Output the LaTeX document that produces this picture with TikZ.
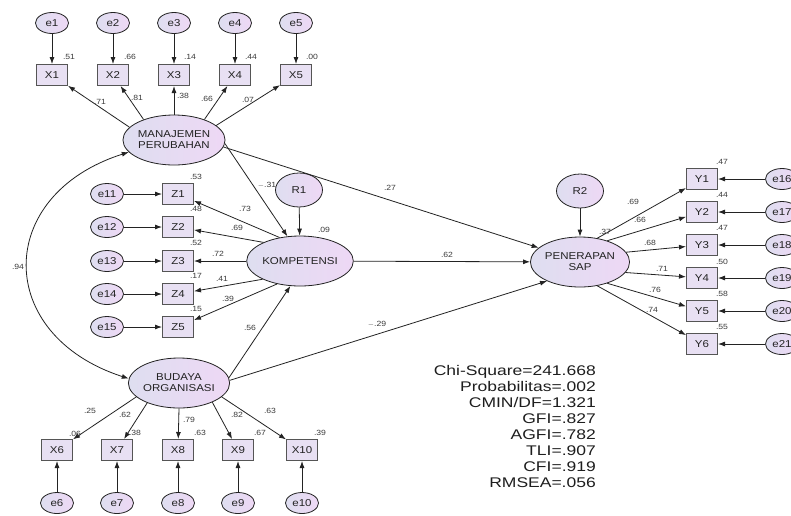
\documentclass[tikz,border=0pt]{standalone}
\usepackage{fontspec}
\setmainfont{Liberation Sans}
\newfontfamily\nodefnt[FakeStretch=1.15]{Liberation Sans}
\newfontfamily\statfnt[FakeStretch=1.25]{Liberation Sans}
\usetikzlibrary{arrows.meta,shapes.geometric}
\definecolor{linec}{RGB}{35,35,35}
\definecolor{boxfill}{RGB}{232,224,243}
\definecolor{boxdraw}{RGB}{85,85,85}
\definecolor{ellL}{RGB}{222,222,240}
\definecolor{ellR}{RGB}{238,216,245}
\definecolor{labc}{RGB}{60,60,60}
\definecolor{statc}{RGB}{30,30,30}
\begin{document}
\begin{tikzpicture}[x=1pt,y=-1pt,
  lat/.style={ellipse, draw=linec, line width=0.8pt, minimum width=96pt, minimum height=50pt, inner sep=0pt,
    left color=ellL, right color=ellR, align=center, font=\nodefnt\fontsize{10}{11}\selectfont, text=linec},
  err/.style={ellipse, draw=linec, line width=0.8pt, minimum width=33pt, minimum height=21pt, inner sep=0pt,
    left color=ellL, right color=ellR, font=\nodefnt\fontsize{10}{11}\selectfont, text=linec},
  resid/.style={ellipse, draw=linec, line width=0.8pt, minimum width=47pt, minimum height=34pt, inner sep=0pt,
    left color=ellL, right color=ellR, font=\nodefnt\fontsize{10}{11}\selectfont, text=linec},
  obs/.style={rectangle, draw=boxdraw, line width=1pt, minimum width=31pt, minimum height=21pt, inner sep=0pt,
    fill=boxfill, font=\nodefnt\fontsize{10}{11}\selectfont, text=linec},
  lab/.style={font=\nodefnt\fontsize{7.5}{8}\selectfont, text=labc, inner sep=0pt},
  stat/.style={font=\statfnt\fontsize{14}{16}\selectfont, text=statc, inner sep=0pt},
  arr/.style={-{Latex[length=7pt,width=5pt]}, line width=0.8pt, draw=linec},
  darr/.style={{Latex[length=7pt,width=5pt]}-{Latex[length=7pt,width=5pt]}, line width=0.8pt, draw=linec}
]
\useasboundingbox (0,0) rectangle (791,515);
\fill[white] (0,0) rectangle (791,515);

% latent variables
\node[lat] (MP) at (174,140) {MANAJEMEN\\PERUBAHAN};
\node[lat] (KOMP) at (300,261) {KOMPETENSI};
\node[lat] (BO) at (179,383) {BUDAYA\\ORGANISASI};
\node[lat] (PEN) at (580,262) {PENERAPAN\\SAP};
\node[resid] (R1) at (299,190) {R1};
\node[resid] (R2) at (580,191) {R2};

% top indicators
\foreach \i/\x/\a in {1/52/164,2/113/146,3/174/90,4/235/34,5/296/19}{
  \node[err] (e\i) at (\x,23) {e\i};
  \node[obs] (X\i) at (\x,75) {X\i};
  \draw[arr] (e\i) -- (X\i);
  \draw[arr] (MP.\a) -- (X\i);
}

% Z indicators
\foreach \i/\y/\a in {1/194/131,2/227/153,3/261/180,4/294/206,5/327/225}{
  \node[err] (e1\i) at (107,\y) {e1\i};
  \node[obs] (Z\i) at (178,\y) {Z\i};
  \draw[arr] (e1\i) -- (Z\i);
  \draw[arr] (KOMP.\a) -- (Z\i);
}

% Y indicators
\foreach \i/\y/\e/\a in {1/179/16/54,2/212/17/38,3/245/18/12,4/278/19/347,5/311/20/322,6/344/21/306}{
  \node[err] (e\e) at (782,\y) {e\e};
  \node[obs] (Y\i) at (702,\y) {Y\i};
  \draw[arr] (e\e) -- (Y\i);
  \draw[arr] (PEN.\a) -- (Y\i);
}

% bottom indicators
\foreach \i/\x/\a in {6/57/198,7/117/212,8/178/270,9/238/330,10/302/342}{
  \node[err] (e\i) at (\x,503) {e\i};
  \node[obs] (X\i) at (\x,450) {X\i};
  \draw[arr] (e\i) -- (X\i);
  \draw[arr] (BO.\a) -- (X\i);
}

% structural paths
\draw[arr] (MP.-4) -- (KOMP.117);
\draw[arr] (MP.-8) -- (PEN.161);
\draw[arr] (R1) -- (KOMP);
\draw[arr] (KOMP) -- (PEN);
\draw[arr] (BO.6) -- (KOMP.249);
\draw[arr] (BO.3) -- (PEN.210);
\draw[arr] (R2) -- (PEN);
\draw[darr] (MP.195) .. controls (-6,195) and (-6,335) .. (BO.175);

% labels
\foreach \t/\x/\y [count=\n] in {
  .51/69/57, .66/130/57, .14/190/57, .44/251/57, .00/312/57,
  .71/100/102, .81/137/98, .38/183/96, .66/207/99, .07/248/100,
  .53/196/177, .48/196/209, .52/196/243, .17/196/276, .15/196/309,
  .73/245/209, .69/237/228, .72/218/254, .41/222/279, .39/228/299,
  {$-$.31}/267/185, .09/324/230, .27/390/188, .62/447/255, {$-$.29}/377/324, .56/250/328,
  .94/18/267, .37/605/232,
  .69/633/202, .66/640/220, .68/650/243, .71/662/269, .76/655/290, .74/652/310,
  .47/722/162, .44/722/195, .47/722/228, .50/722/262, .58/722/294, .55/722/327,
  .25/90/411, .62/125/415, .79/189/420, .82/237/415, .63/270/411,
  .06/75/434, .38/135/433, .63/200/433, .67/260/433, .39/320/433}
  \node[lab] (L\n) at (\x,\y) {\t};

% fit statistics
\foreach \t [count=\n] in {Chi-Square=241.668, Probabilitas=.002, CMIN/DF=1.321, GFI=.827,
  AGFI=.782, TLI=.907, CFI=.919, RMSEA=.056}
  \node[stat, anchor=base east] (S\n) at (596,{375+16*(\n-1)}) {\t};
\end{tikzpicture}
\end{document}
